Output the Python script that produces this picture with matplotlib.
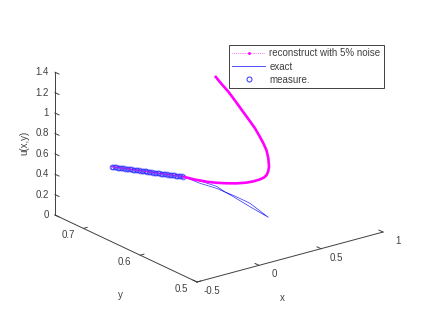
import matplotlib
matplotlib.use("Agg")
import matplotlib.pyplot as plt
from matplotlib.lines import Line2D
import numpy as np

plt.rcParams['font.family'] = ['Liberation Sans', 'DejaVu Sans']

# measured points (x, y, u)
meas_x = [-0.1800,-0.1794,-0.1789,-0.1783,-0.1777,-0.1772,-0.1766,-0.1760,-0.1755,-0.1749,-0.1743,-0.1738,-0.1732,
          -0.1726,-0.1721,-0.1715,-0.1709,-0.1704,-0.1698,-0.1692,-0.1687,-0.1681,-0.1675,-0.1670,-0.1664,
          -0.1658,-0.1653,-0.1647,-0.1641,-0.1636,-0.1630,-0.1624,-0.1619,-0.1613,-0.1607,-0.1602,-0.1596,
          -0.1590,-0.1585,-0.1579,-0.1573,-0.1568,-0.1562,-0.1556,-0.1551,-0.1545,-0.1539,-0.1534,-0.1520]
meas_y = [0.7200,0.7175,0.7150,0.7125,0.7100,0.7075,0.7050,0.7025,0.7000,0.6975,0.6950,0.6925,0.6900,
          0.6875,0.6850,0.6825,0.6800,0.6775,0.6750,0.6725,0.6700,0.6675,0.6650,0.6625,0.6600,
          0.6575,0.6550,0.6525,0.6500,0.6475,0.6450,0.6425,0.6400,0.6375,0.6350,0.6325,0.6300,
          0.6275,0.6250,0.6225,0.6200,0.6175,0.6150,0.6125,0.6100,0.6075,0.6050,0.6025,0.6000]
meas_u = [0.448,0.452,0.457,0.461,0.465,0.470,0.474,0.478,0.483,0.487,0.491,0.496,0.500,
          0.504,0.509,0.513,0.517,0.522,0.526,0.530,0.535,0.539,0.543,0.548,0.552,
          0.556,0.561,0.565,0.569,0.574,0.578,0.582,0.587,0.591,0.596,0.600,0.604,
          0.609,0.613,0.617,0.622,0.626,0.630,0.635,0.639,0.643,0.648,0.652,0.656]

# exact solution beyond the measured part: out to the tip and back
exact_x = [-0.086,-0.020,0.012,0.044,0.110,0.190,0.110,0.044,0.012,-0.020,-0.086,-0.152]
exact_y = [0.585,0.570,0.5625,0.555,0.540,0.525,0.540,0.555,0.5625,0.570,0.585,0.600]
exact_u = [0.609,0.577,0.551,0.515,0.434,0.343,0.468,0.528,0.551,0.597,0.632,0.656]

# reconstruction beyond the measured part
rec_x = [-0.093,-0.032,0.014,0.060,0.106,0.152,0.185,0.214,0.233,0.245,0.258,0.264,
         0.327,0.347,0.356,0.370,0.380,0.372,0.365,0.356,0.348,0.339,0.332]
rec_y = [0.5925,0.585,0.5775,0.570,0.5625,0.555,0.550,0.545,0.542,0.540,0.540,0.540,
         0.555,0.5625,0.570,0.580,0.590,0.600,0.610,0.620,0.630,0.640,0.650]
rec_u = [0.628,0.607,0.601,0.601,0.605,0.617,0.632,0.655,0.675,0.701,0.736,0.776,
         0.799,0.849,0.896,0.937,0.983,1.051,1.115,1.184,1.248,1.300,1.354]

x_ticks = [-0.5, 0, 0.5, 1]
x_tick_labels = ['-0.5', '0', '0.5', '1']
y_ticks = [0.5, 0.6, 0.7]
y_tick_labels = ['0.5', '0.6', '0.7']
u_ticks = [0, 0.2, 0.4, 0.6, 0.8, 1, 1.2, 1.4]
u_tick_labels = ['0', '0.2', '0.4', '0.6', '0.8', '1', '1.2', '1.4']
x_range = (-0.5, 1.0)
y_range = (0.5, 0.75)
u_range = (0.0, 1.4)


def project(x, y, u):
    """Fixed orthographic view of the 3-D box, in figure pixels."""
    x, y, u = np.asarray(x, float), np.asarray(y, float), np.asarray(u, float)
    X, Y = x + 0.5, y - 0.5
    return 197 + 124 * X - 568 * Y, 282 - 33.3 * X - 268 * Y - 102 * u


fig = plt.figure(figsize=(4.23, 3.17), dpi=100)
ax = fig.add_axes([0, 0, 1, 1])
ax.set_xlim(0, 423)
ax.set_ylim(317, 0)
ax.axis('off')

AX_C = '#404040'
TXT_C = '#404040'
FS = 7

# box edges
def edge(a, b):
    sx, sy = project(*zip(a, b))
    ax.plot(sx, sy, color=AX_C, lw=0.7, solid_capstyle='projecting')

edge((x_range[0], y_range[1], u_range[0]), (x_range[0], y_range[1], u_range[1]))
edge((x_range[0], y_range[1], u_range[0]), (x_range[0], y_range[0], u_range[0]))
edge((x_range[0], y_range[0], u_range[0]), (x_range[1], y_range[0], u_range[0]))

# ticks and labels
for v, s in zip(x_ticks, x_tick_labels):
    sx, sy = project([v, v], [0.5, 0.507], [0, 0])
    ax.plot(sx, sy, color=AX_C, lw=0.7)
    px, py = project(v, 0.5, 0)
    ax.text(px + 15, py + 9, s, ha='center', va='center', fontsize=FS, color=TXT_C)
for v, s in zip(y_ticks, y_tick_labels):
    sx, sy = project([-0.5, -0.47], [v, v], [0, 0])
    ax.plot(sx, sy, color=AX_C, lw=0.7)
    px, py = project(-0.5, v, 0)
    ax.text(px - 15.5, py + 7, s, ha='center', va='center', fontsize=FS, color=TXT_C)
for v, s in zip(u_ticks, u_tick_labels):
    sx, sy = project([-0.5, -0.5], [0.75, 0.743], [v, v])
    ax.plot(sx, sy, color=AX_C, lw=0.7)
    px, py = project(-0.5, 0.75, v)
    ax.text(px - 6, py, s, ha='right', va='center', fontsize=FS, color=TXT_C)

ax.text(282, 298, 'x', ha='center', va='center', fontsize=FS, color=TXT_C)
ax.text(120, 295, 'y', ha='center', va='center', fontsize=FS, color=TXT_C)
ax.text(24, 143, 'u(x,y)', ha='center', va='center', rotation=90, fontsize=FS, color=TXT_C)

# curves
sx, sy = project(meas_x + exact_x, meas_y + exact_y, meas_u + exact_u)
ax.plot(sx, sy, color='#3030ff', lw=0.5, zorder=3)
sx, sy = project(meas_x, meas_y, meas_u)
ax.plot(sx, sy, ls='none', marker='o', ms=3.5, mfc='none', mec='#3030ff', mew=0.5, zorder=4)
sx, sy = project(meas_x + rec_x, meas_y + rec_y, meas_u + rec_u)
n = len(meas_x)
ax.plot(sx[:n], sy[:n], color='#ff00ff', lw=0.9, ls=(0, (1, 1.2)), zorder=5)
ax.plot(sx[n - 1:], sy[n - 1:], color='#ff00ff', lw=1.9, zorder=5,
        solid_capstyle='butt', solid_joinstyle='round')

handles = [
    Line2D([], [], color='#ff00ff', ls=':', lw=0.5, marker='.', ms=2.2),
    Line2D([], [], color='#5050ff', lw=0.7),
    Line2D([], [], ls='none', marker='o', ms=3.6, mfc='none', mec='#3030ff', mew=0.7),
]
leg = ax.legend(handles, ['reconstruct with 5% noise', 'exact', 'measure.'],
                loc='upper left', bbox_to_anchor=(229, 45), bbox_transform=ax.transData,
                fontsize=FS, frameon=True, fancybox=False, framealpha=1,
                edgecolor='#404040', borderaxespad=0, borderpad=0.35,
                labelspacing=0.32, handlelength=3.4, handletextpad=0.4, labelcolor=TXT_C)
leg.get_frame().set_linewidth(0.7)

fig.savefig('out.png', dpi=100)
